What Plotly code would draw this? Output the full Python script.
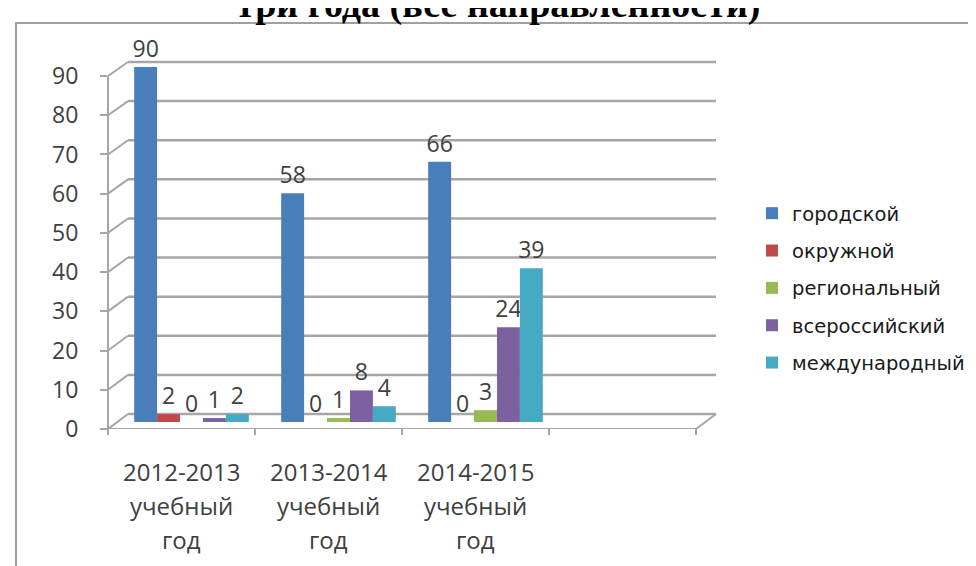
import plotly.graph_objects as go

categories = ["2012-2013 учебный год", "2013-2014 учебный год", "2014-2015 учебный год"]
cat_lines = [["2012-2013", "учебный", "год"], ["2013-2014", "учебный", "год"], ["2014-2015", "учебный", "год"]]
series_names = ["городской", "окружной", "региональный", "всероссийский", "международный"]
gorodskoy = [90, 58, 66]
okruzhnoy = [2, 0, 0]
regionalny = [0, 1, 3]
vserossiysky = [1, 8, 24]
mezhdunarodny = [2, 4, 39]
series_values = [gorodskoy, okruzhnoy, regionalny, vserossiysky, mezhdunarodny]
colors = ["#4A7EBB", "#BE4B48", "#98B954", "#7D60A0", "#46AAC5"]
y_ticks = [0, 10, 20, 30, 40, 50, 60, 70, 80, 90]
title_text = "три года (все направленности)"

W, H = 976, 566
# plot box in pixels
PL, PR, PT, PB = 100, 708, 40, 421
PW, PH = PR - PL, PB - PT
CAT_W = 147.0            # pixel width of one category on the front axis
N_SLOTS = 4              # three years plus one empty slot
DX = 20                  # depth of the 3-D floor (back wall offset)

def px_x(p):
    return (p - PL) / PW

def px_y(p):
    return (PB - p) / PH

# front axis: 0 -> 421, 90 -> 68
front_unit = (421 - 68) / 90.0
front_range = [0, (PB - PT) / front_unit]
# bars sit mid-depth: 0 -> 414, 90 -> 59
bar_unit = (414 - 59) / 90.0
bar_range = [-(PB - 414) / bar_unit, (414 - PT) / bar_unit]
# back wall: 0 -> 406, 90 -> 54
back_unit = (406 - 54) / 90.0
back_range = [-(PB - 406) / back_unit, (406 - PT) / back_unit]

x_front_range = [-0.5, -0.5 + PW / CAT_W]
x_bar_range = [-0.5 - 10 / CAT_W, -0.5 - 10 / CAT_W + PW / CAT_W]

fig = go.Figure()
for name, vals, col in zip(series_names, series_values, colors):
    fig.add_trace(go.Bar(
        x=categories, y=vals, name=name, xaxis="x2", yaxis="y2",
        marker=dict(color=col, line=dict(width=0)),
        text=[str(v) for v in vals], textposition="outside", constraintext="none",
        textfont=dict(family="Open Sans", size=23, color="#404040"),
        cliponaxis=False, legendgroup=name,
    ))

annotations = []
for ci, lines in enumerate(cat_lines):
    for li, line in enumerate(lines):
        annotations.append(dict(
            x=categories[ci], xref="x", y=px_y(463 + li * 34), yref="paper",
            text=line, showarrow=False, xanchor="center", yanchor="middle",
            font=dict(family="Open Sans", size=24, color="#404040"),
        ))
annotations.append(dict(
    x=px_x(490), xref="paper", y=px_y(20), yref="paper", text="<b>" + title_text + "</b>",
    showarrow=False, xanchor="center", yanchor="bottom",
    font=dict(family="Liberation Serif", size=38, color="#000000"),
))

GRID = "#A6A6A6"
x_end_front = px_x(PL + N_SLOTS * CAT_W)
shapes = [
    # outer chart frame
    dict(type="rect", xref="paper", yref="paper", x0=px_x(8), x1=px_x(1000),
         y0=px_y(620), y1=px_y(15), line=dict(color="#A0A0A0", width=2),
         fillcolor="rgba(0,0,0,0)", layer="below"),
]
# back-wall gridlines and the slanted connectors to the front axis
for v in y_ticks:
    shapes.append(dict(type="line", xref="paper", yref="y3", x0=px_x(PL + DX), x1=1,
                       y0=v, y1=v, line=dict(color=GRID, width=2.5), layer="below"))
    y_front_in_back = (406 - (421 - v * front_unit)) / back_unit
    shapes.append(dict(type="line", xref="paper", yref="y3", x0=0, x1=px_x(PL + DX),
                       y0=y_front_in_back, y1=v, line=dict(color=GRID, width=2), layer="below"))
# front y-axis line (0..90) and front floor line
shapes.append(dict(type="line", xref="paper", yref="y", x0=0, x1=0, y0=0, y1=y_ticks[-1],
                   line=dict(color=GRID, width=2)))
shapes.append(dict(type="line", xref="paper", yref="y", x0=0, x1=x_end_front, y0=0, y1=0,
                   line=dict(color=GRID, width=2)))
# right floor edge
shapes.append(dict(type="line", xref="paper", yref="y3", x0=x_end_front, x1=1,
                   y0=(406 - 421) / back_unit, y1=0, line=dict(color=GRID, width=2)))
# x tick marks at category boundaries
for k in range(N_SLOTS + 1):
    xb = px_x(PL + k * CAT_W)
    shapes.append(dict(type="line", xref="paper", yref="paper", x0=xb, x1=xb,
                       y0=0, y1=-6 / PH, line=dict(color=GRID, width=2)))

fig.update_layout(
    width=W, height=H,
    margin=dict(l=PL, r=W - PR, t=PT, b=H - PB),
    paper_bgcolor="white", plot_bgcolor="rgba(0,0,0,0)",
    barmode="group", bargap=0.22, bargroupgap=0.0,
    showlegend=True,
    legend=dict(x=px_x(744), y=px_y(186), xanchor="left", yanchor="top",
                font=dict(family="DejaVu Sans", size=19.5, color="#1a1a1a"),
                tracegroupgap=9, itemwidth=30, bgcolor="rgba(0,0,0,0)"),
    annotations=annotations, shapes=shapes,
    xaxis=dict(type="category", categoryarray=categories, range=x_front_range,
               showticklabels=False, ticks="", showline=False, showgrid=False, zeroline=False),
    xaxis2=dict(type="category", categoryarray=categories, range=x_bar_range, overlaying="x",
                showticklabels=False, ticks="", showline=False, showgrid=False, zeroline=False),
    yaxis=dict(range=front_range, tickvals=y_ticks, ticks="outside", ticklen=7,
               tickcolor=GRID, tickwidth=2, ticklabelstandoff=17,
               showline=False, showgrid=False, zeroline=False,
               tickfont=dict(family="Open Sans", size=23, color="#404040")),
    yaxis2=dict(range=bar_range, overlaying="y", showticklabels=False, ticks="",
                showline=False, showgrid=False, zeroline=False),
    yaxis3=dict(range=back_range, overlaying="y", showticklabels=False, ticks="",
                showline=False, showgrid=False, zeroline=False),
)
# a hidden trace so yaxis3 exists
fig.add_trace(go.Scatter(x=[categories[0]], y=[0], xaxis="x", yaxis="y3", mode="markers",
                         marker=dict(opacity=0), showlegend=False, hoverinfo="skip"))

fig.write_html("out.html")
